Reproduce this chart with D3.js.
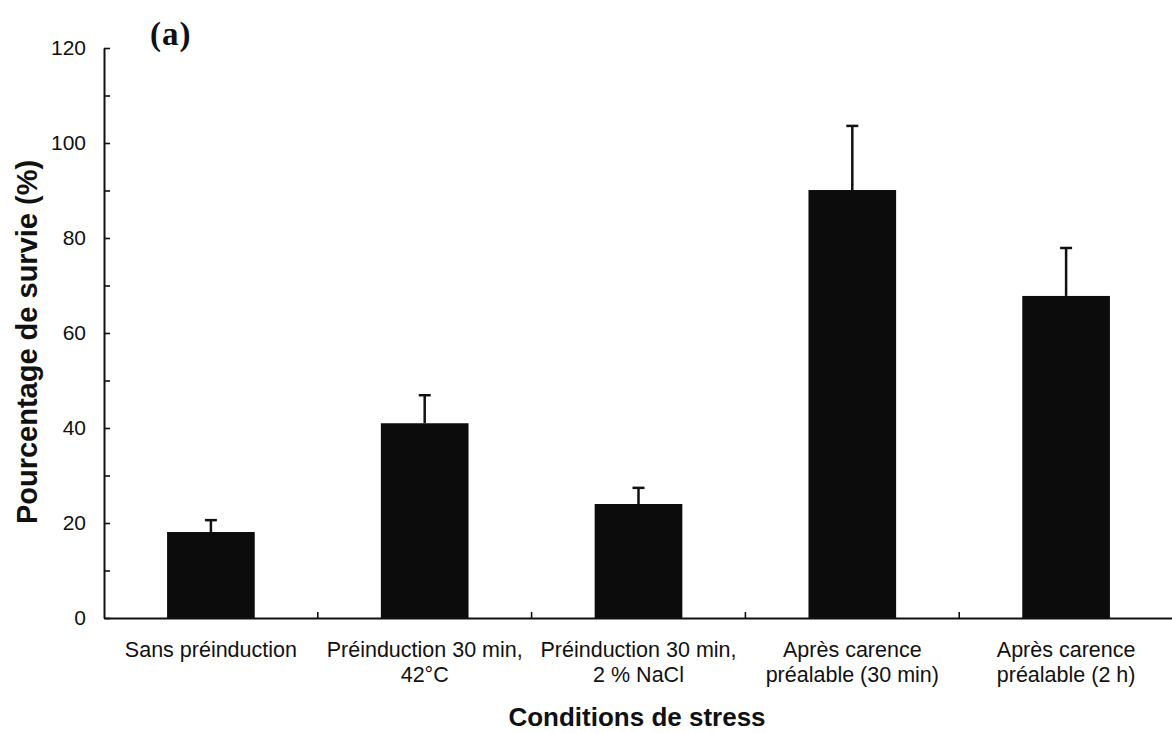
<!DOCTYPE html>
<html>
<head>
<meta charset="utf-8">
<script src="https://cdn.jsdelivr.net/npm/d3@7"></script>
<style>
  html, body { margin: 0; padding: 0; background: #fff; }
  svg { display: block; }
  text { font-family: "Liberation Sans", Arial, Helvetica, sans-serif; fill: #111; }
</style>
</head>
<body>
<svg id="chart" width="1172" height="733"></svg>
<script>
// ---- data ----
const categories = [
  "Sans préinduction",
  "Préinduction 30 min, 42°C",
  "Préinduction 30 min, 2 % NaCl",
  "Après carence préalable (30 min)",
  "Après carence préalable (2 h)"
];
const labelLines = [
  ["Sans préinduction"],
  ["Préinduction 30 min,", "42°C"],
  ["Préinduction 30 min,", "2 % NaCl"],
  ["Après carence", "préalable (30 min)"],
  ["Après carence", "préalable (2 h)"]
];
const survival = [18.1, 41.0, 24.0, 90.1, 67.8];
const errorUp = [2.5, 5.9, 3.4, 13.5, 10.1];
const yMajorTicks = [0, 20, 40, 60, 80, 100, 120];
const yMinorTicks = [10, 30, 50, 70, 90, 110];
const yTitle = "Pourcentage de survie (%)";
const xTitle = "Conditions de stress";
const panelLabel = "(a)";

// ---- layout ----
const svg = d3.select("#chart");
const mLeft = 104, mRight = 1173, mTop = 48, mBottom = 618;

const x = d3.scaleBand().domain(categories).range([mLeft, mRight])
  .paddingInner(0.59).paddingOuter(0.295);
const y = d3.scaleLinear().domain([0, 120]).range([mBottom, mTop]);

// bars
svg.append("g").selectAll("rect").data(categories).join("rect")
  .attr("x", d => x(d))
  .attr("y", (d, i) => y(survival[i]))
  .attr("width", x.bandwidth())
  .attr("height", (d, i) => y(0) - y(survival[i]))
  .attr("fill", "#0c0c0c");

// error bars
const eb = svg.append("g").attr("stroke", "#111").attr("stroke-width", 2.5);
categories.forEach((c, i) => {
  const cx = x(c) + x.bandwidth() / 2;
  eb.append("line").attr("x1", cx).attr("x2", cx)
    .attr("y1", y(survival[i])).attr("y2", y(survival[i] + errorUp[i]));
  eb.append("line").attr("x1", cx - 6).attr("x2", cx + 6)
    .attr("y1", y(survival[i] + errorUp[i])).attr("y2", y(survival[i] + errorUp[i]));
});

// y axis
const yAxis = d3.axisLeft(y).tickValues(yMajorTicks).tickSizeInner(-6).tickSizeOuter(0).tickPadding(18)
  .tickFormat(d3.format("d"));
const gy = svg.append("g").attr("transform", `translate(${mLeft},0)`).call(yAxis);
gy.select(".domain").attr("stroke", "#111").attr("stroke-width", 2);
gy.selectAll(".tick line").attr("stroke", "#111").attr("stroke-width", 1.6);
gy.selectAll(".tick text").attr("font-size", 21).attr("fill", "#111")
  .style("font-family", "'Liberation Sans', Arial, sans-serif");
const gyMinor = svg.append("g").attr("transform", `translate(${mLeft},0)`)
  .call(d3.axisLeft(y).tickValues(yMinorTicks).tickSizeInner(-6).tickSizeOuter(0).tickFormat(""));
gyMinor.select(".domain").remove();
gyMinor.selectAll(".tick line").attr("stroke", "#111").attr("stroke-width", 1.6);

// x axis
const xAxis = d3.axisBottom(x).tickSize(0).tickPadding(24);
const gx = svg.append("g").attr("transform", `translate(0,${mBottom})`).call(xAxis);
gx.select(".domain").attr("stroke", "#111").attr("stroke-width", 2);
gx.selectAll(".tick text").attr("font-size", 21.5).attr("fill", "#111")
  .style("font-family", "'Liberation Sans', Arial, sans-serif")
  .each(function(d, i) {
    const t = d3.select(this);
    t.text(null);
    labelLines[i].forEach((ln, j) => {
      t.append("tspan").attr("x", 0).attr("dy", j === 0 ? "0.71em" : "1.15em").text(ln);
    });
  });
// boundary ticks between categories
const step = x.step();
svg.append("g").attr("stroke", "#111").attr("stroke-width", 1.6)
  .selectAll("line").data(categories.slice(1)).join("line")
  .attr("x1", d => x(d) - x.paddingInner() * step / 2)
  .attr("x2", d => x(d) - x.paddingInner() * step / 2)
  .attr("y1", mBottom).attr("y2", mBottom - 6);

// titles
svg.append("text")
  .attr("transform", `translate(37,342) rotate(-90)`)
  .attr("text-anchor", "middle")
  .attr("font-size", 29).attr("font-weight", "bold")
  .text(yTitle);
svg.append("text")
  .attr("x", 637).attr("y", 726)
  .attr("text-anchor", "middle")
  .attr("font-size", 26).attr("font-weight", "bold")
  .text(xTitle);
svg.append("text")
  .attr("x", 150).attr("y", 45)
  .attr("font-size", 33).attr("font-weight", "bold")
  .attr("letter-spacing", 1)
  .style("font-family", "'Liberation Serif', 'Times New Roman', serif")
  .text(panelLabel);
</script>
</body>
</html>
